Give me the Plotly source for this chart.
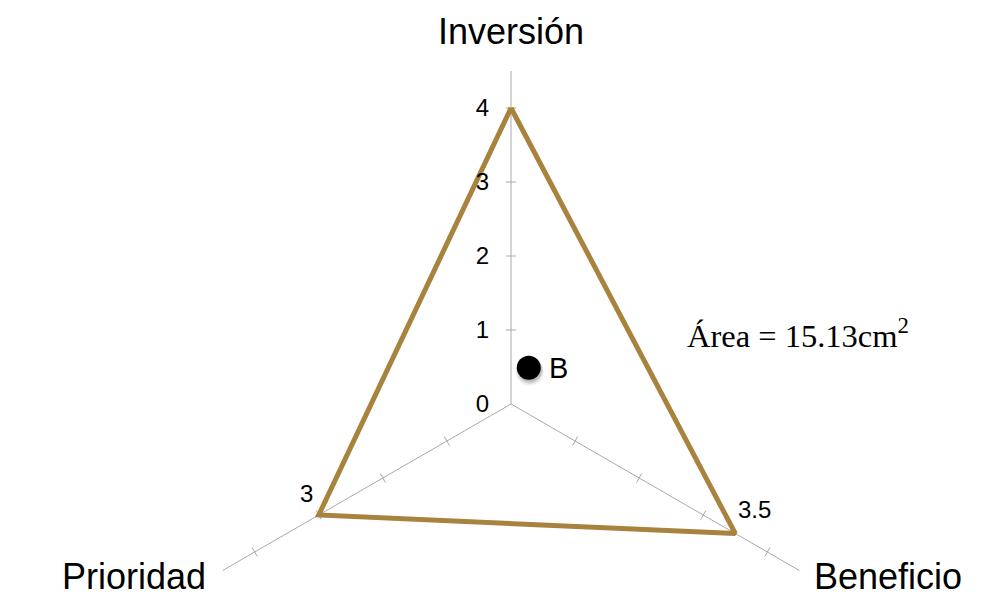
import math
import plotly.graph_objects as go

# ---- data ----
axis_names = ["Inversión", "Beneficio", "Prioridad"]
axis_angles = [0, 120, 240]          # degrees, clockwise from top
values = [4, 3.5, 3]
tick_values = [0, 1, 2, 3, 4]
axis_max = 4.5
point_label = "B"
point_x, point_y = 0.24, 0.49
area_text = "Área = 15.13cm<sup>2</sup>"

# ---- layout constants (page body has an 8px margin) ----
OFF = 8
W, H = 991 - OFF, 611 - OFF
CX, CY = 511 - OFF, 404 - OFF    # centre in figure pixels
PX = 74                          # pixels per unit
LINE_COLOR = "#A8833D"
SPOKE_COLOR = "#A9A9A9"
SANS = "Arial, Liberation Sans, sans-serif"
SERIF = "Times New Roman, Liberation Serif, serif"


def xy(r, ang):
    a = math.radians(ang)
    return r * math.sin(a), r * math.cos(a)


fig = go.Figure()

# spokes
sx, sy = [], []
for ang in axis_angles:
    x0, y0 = xy(0, ang)
    x1, y1 = xy(axis_max, ang)
    sx += [x0, x1, None]
    sy += [y0, y1, None]
fig.add_trace(go.Scatter(x=sx, y=sy, mode="lines", line=dict(color=SPOKE_COLOR, width=1),
                         hoverinfo="skip", showlegend=False))

# tick marks on spokes
tx, ty = [], []
half = 0.07
for ang in axis_angles:
    for t in tick_values[1:]:
        cx, cy = xy(t, ang)
        px, py = xy(half, ang + 90)
        tx += [cx - px, cx + px, None]
        ty += [cy - py, cy + py, None]
fig.add_trace(go.Scatter(x=tx, y=ty, mode="lines", line=dict(color=SPOKE_COLOR, width=1),
                         hoverinfo="skip", showlegend=False))

# polygon
px_, py_ = [], []
for v, ang in zip(values + values[:1], axis_angles + axis_angles[:1]):
    x, y = xy(v, ang)
    px_.append(x)
    py_.append(y)
fig.add_trace(go.Scatter(x=px_, y=py_, mode="lines", line=dict(color=LINE_COLOR, width=5),
                         hoverinfo="skip", showlegend=False))

# point B with soft shadow
for k, (d, s, a) in enumerate([(4, 28, 0.06), (3, 26, 0.10), (2, 24, 0.14)]):
    fig.add_trace(go.Scatter(x=[point_x + 1 / PX], y=[point_y - d / PX], mode="markers",
                             marker=dict(size=s, color=f"rgba(0,0,0,{a})", line=dict(width=0)),
                             hoverinfo="skip", showlegend=False))
fig.add_trace(go.Scatter(x=[point_x], y=[point_y], mode="markers",
                         marker=dict(size=24, color="black", line=dict(width=0)),
                         hoverinfo="skip", showlegend=False))
fig.add_annotation(x=point_x, y=point_y, text=point_label, showarrow=False,
                   xanchor="left", yanchor="middle", xshift=18,
                   font=dict(family=SANS, size=29, color="black"))

# vertex value labels (Beneficio, Prioridad)
shifts = {1: (1, 24, "left"), 2: (-4, 22, "right")}
for i, (xs, ys, anc) in shifts.items():
    x, y = xy(values[i], axis_angles[i])
    fig.add_annotation(x=x, y=y, text=f"{values[i]:g}", showarrow=False,
                       xanchor=anc, yanchor="middle", xshift=xs, yshift=ys,
                       font=dict(family=SANS, size=24, color="black"))

# axis titles
title_pos = {0: (0, 40, "center"), 1: (13, -6, "left"), 2: (-15, -6, "right")}
for i, (xs, ys, anc) in title_pos.items():
    x, y = xy(axis_max, axis_angles[i])
    fig.add_annotation(x=x, y=y, text=axis_names[i], showarrow=False,
                       xanchor=anc, yanchor="middle", xshift=xs, yshift=ys,
                       font=dict(family=SANS, size=36, color="black"))

# area text
fig.add_annotation(x=(685 - OFF) / W, y=1 - (333 - OFF) / H, xref="paper", yref="paper",
                   text=area_text, showarrow=False, xanchor="left", yanchor="middle",
                   font=dict(family=SERIF, size=32.5, color="black"))

fig.update_layout(
    width=W, height=H, margin=dict(l=0, r=0, t=0, b=0),
    paper_bgcolor="white", plot_bgcolor="white",
    xaxis=dict(range=[-CX / PX, (W - CX) / PX], visible=False, fixedrange=True),
    yaxis=dict(range=[-(H - CY) / PX, CY / PX], showgrid=False, zeroline=False,
               showline=False, tickvals=tick_values, ticks="",
               anchor="free", position=CX / W, ticklabelstandoff=22,
               tickfont=dict(family=SANS, size=24, color="black"), fixedrange=True),
    showlegend=False,
)

fig.write_html("out.html")
